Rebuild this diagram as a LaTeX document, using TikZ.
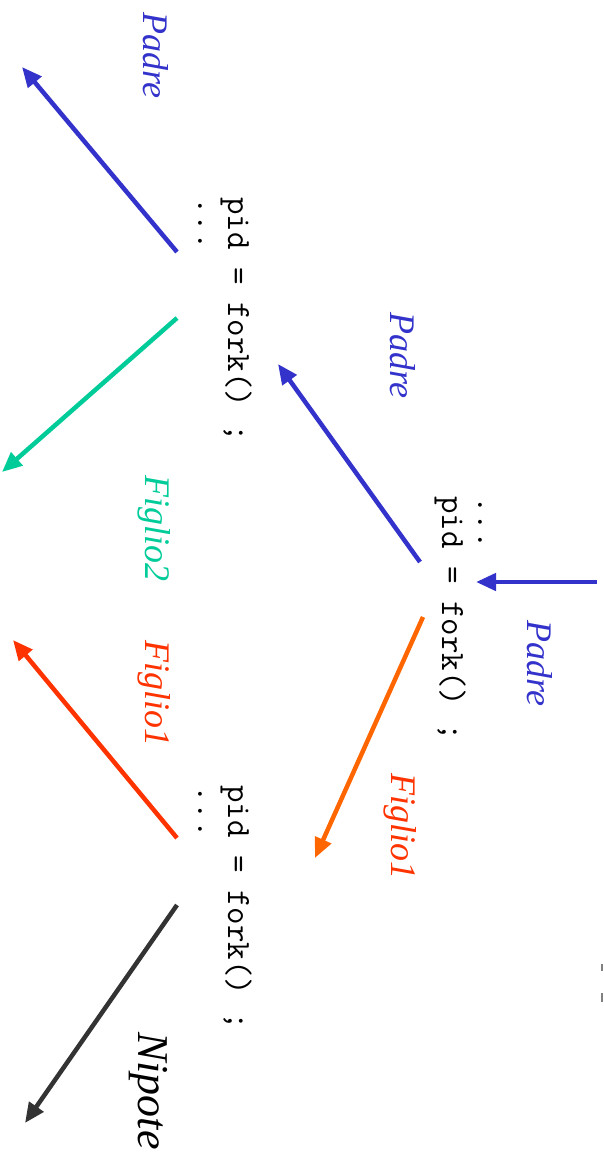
\documentclass[tikz,border=0pt]{standalone}
\usepackage{fontspec}
\setmainfont{Liberation Serif}
\usetikzlibrary{arrows.meta}
\definecolor{padreblue}{RGB}{51,51,204}
\definecolor{figliogreen}{RGB}{0,204,153}
\definecolor{figlioorange}{RGB}{255,102,0}
\definecolor{figliored}{RGB}{255,51,0}
\definecolor{nipotegray}{RGB}{51,51,51}
\tikzset{
  code/.style={rotate=-90,anchor=base west,inner sep=0pt,font=\fontsize{34}{38}\selectfont\ttfamily},
  who/.style={rotate=-90,anchor=base west,inner sep=0pt,font=\fontsize{36}{40}\selectfont\itshape},
  edge/.style={-{Triangle[length=20pt,width=17pt]},line width=4.5pt}
}
\begin{document}
\begin{tikzpicture}[x=1pt,y=-1pt]
  \useasboundingbox (0,0) rectangle (603,1164);
  % codice del padre
  \node[code] (dots0) at (478,496) {...};
  \node[code] (fork0) at (442,496) {pid = fork() ;};
  % codice dopo la prima fork
  \node[code] (fork1) at (228,197) {pid = fork() ;};
  \node[code] (dots1) at (198,197) {...};
  \node[code] (fork2) at (228,785) {pid = fork() ;};
  \node[code] (dots2) at (198,785) {...};
  % etichette
  \node[who,text=padreblue] (lpadre0) at (527,620) {Padre};
  \node[who,text=padreblue] (lpadre1) at (390,312) {Padre};
  \node[who,text=figliored] (lfiglio1a) at (391,773) {Figlio1};
  \node[who,text=padreblue] (lpadre2) at (143,12) {Padre};
  \node[who,text=figliogreen] (lfiglio2) at (145,475) {Figlio2};
  \node[who,text=figliored] (lfiglio1b) at (145,640) {Figlio1};
  \node[who,text=black,font=\fontsize{44}{48}\selectfont\itshape] (lnipote) at (138,1032) {Nipote};
  % estremi delle frecce
  \coordinate (in0) at (597,582);
  \coordinate (at0) at (476,582);
  \coordinate (p0) at (420,562);
  \coordinate (p0e) at (278,364);
  \coordinate (f0) at (423,617);
  \coordinate (f0e) at (315,858);
  \coordinate (p1) at (177,252);
  \coordinate (p1e) at (22,67);
  \coordinate (g1) at (177,318);
  \coordinate (g1e) at (2,472);
  \coordinate (f2) at (177,838);
  \coordinate (f2e) at (13,640);
  \coordinate (n2) at (177,905);
  \coordinate (n2e) at (25,1123);
  \draw[edge,padreblue] (in0) -- (at0);
  \draw[edge,padreblue] (p0) -- (p0e);
  \draw[edge,figlioorange] (f0) -- (f0e);
  \draw[edge,padreblue] (p1) -- (p1e);
  \draw[edge,figliogreen] (g1) -- (g1e);
  \draw[edge,figliored] (f2) -- (f2e);
  \draw[edge,nipotegray] (n2) -- (n2e);
  % resti tagliati al bordo
  \fill[gray] (601,964) rectangle (603,971);
  \fill[gray] (601,993) rectangle (603,1002);
\end{tikzpicture}
\end{document}
